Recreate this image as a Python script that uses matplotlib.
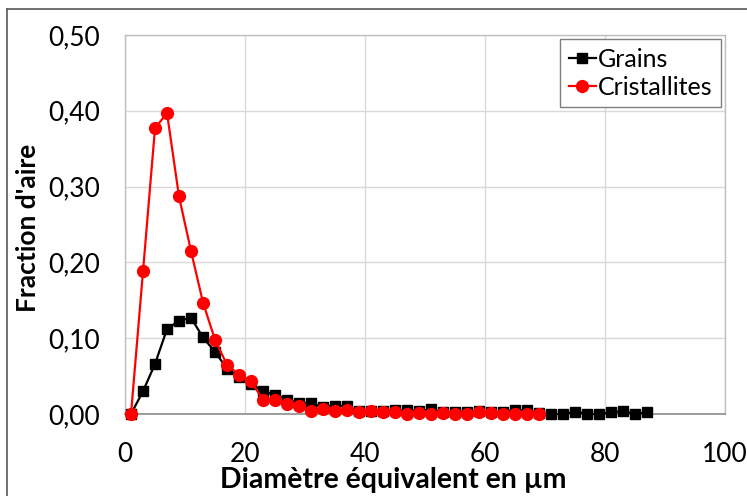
import matplotlib.pyplot as plt
from matplotlib.lines import Line2D
from matplotlib.ticker import FuncFormatter

# diamètre équivalent (µm), centres de classes
diam_grains = [1, 3, 5, 7, 9, 11, 13, 15, 17, 19, 21, 23, 25, 27, 29, 31, 33, 35, 37, 39,
               41, 43, 45, 47, 49, 51, 53, 55, 57, 59, 61, 63, 65, 67, 69, 71, 73, 75, 77,
               79, 81, 83, 85, 87]
frac_grains = [0.0, 0.030, 0.066, 0.112, 0.123, 0.127, 0.101, 0.082, 0.060, 0.049,
               0.040, 0.030, 0.025, 0.019, 0.014, 0.014, 0.009, 0.011, 0.010, 0.004,
               0.004, 0.004, 0.005, 0.005, 0.004, 0.006, 0.002, 0.003, 0.003, 0.004,
               0.002, 0.002, 0.005, 0.005, 0.001, 0.0, 0.0, 0.003, 0.0, 0.0,
               0.002, 0.004, 0.0, 0.002]

diam_crist = [1, 3, 5, 7, 9, 11, 13, 15, 17, 19, 21, 23, 25, 27, 29, 31, 33, 35, 37, 39,
              41, 43, 45, 47, 49, 51, 53, 55, 57, 59, 61, 63, 65, 67, 69]
frac_crist = [0.0, 0.188, 0.377, 0.397, 0.287, 0.215, 0.147, 0.098, 0.065, 0.052,
              0.043, 0.019, 0.018, 0.013, 0.011, 0.004, 0.006, 0.004, 0.005, 0.002,
              0.004, 0.003, 0.002, 0.0, 0.001, 0.0, 0.001, 0.0, 0.0, 0.002,
              0.001, 0.0, 0.0, 0.0, 0.0]

x_ticks = [0, 20, 40, 60, 80, 100]
y_ticks = [0.0, 0.1, 0.2, 0.3, 0.4, 0.5]

plt.rcParams['font.family'] = ['Lato', 'DejaVu Sans']

fig = plt.figure(figsize=(7.47, 4.96), dpi=100)
ax = fig.add_axes([125 / 747, 1 - 414 / 496, 600 / 747, 379 / 496])

ax.plot(diam_grains, frac_grains, color='black', lw=1.6, marker='s', ms=7,
        label='Grains', clip_on=False, zorder=3)
ax.plot(diam_crist, frac_crist, color='#ff0000', lw=1.6, marker='o', ms=8.5,
        label='Cristallites', clip_on=False, zorder=4)

ax.set_xlim(0, 100)
ax.set_ylim(0, 0.5)
ax.set_xticks(x_ticks)
ax.set_yticks(y_ticks)
ax.yaxis.set_major_formatter(FuncFormatter(lambda v, p: f'{v:.2f}'.replace('.', ',')))
ax.tick_params(length=0, labelsize=19, colors='black')
ax.tick_params(axis='y', pad=18)
ax.tick_params(axis='x', pad=20)

ax.grid(True, color='#d9d9d9', lw=1)
ax.set_axisbelow(True)
for side in ['left', 'top', 'right']:
    ax.spines[side].set_color('#bfbfbf')
    ax.spines[side].set_linewidth(1)
ax.spines['bottom'].set_color('#8c8c8c')
ax.spines['bottom'].set_linewidth(1.2)

ax.set_ylabel("Fraction d'aire", fontsize=19, fontweight='bold')
ax.yaxis.set_label_coords(-0.142, 0.49)
ax.set_xlabel('Diamètre équivalent en µm', fontsize=20.5, fontweight='bold')
ax.xaxis.set_label_coords((393 - 125) / 600, -0.14)

leg = ax.legend(loc='upper right', bbox_to_anchor=(0.993, 0.99), fontsize=18,
                handlelength=1.1, handletextpad=0.05, borderpad=0.35,
                labelspacing=0.2, fancybox=False, framealpha=1, borderaxespad=0)
leg.get_frame().set_edgecolor('#7f7f7f')
leg.get_frame().set_linewidth(1)

# cadre du graphique
fig.add_artist(Line2D([7 / 747, 7 / 747], [0, 1 - 9 / 496], color='#595959', lw=1.2))
fig.add_artist(Line2D([7 / 747, 1], [1 - 9 / 496, 1 - 9 / 496], color='#595959', lw=1.2))

fig.savefig('out.png', dpi=100)
